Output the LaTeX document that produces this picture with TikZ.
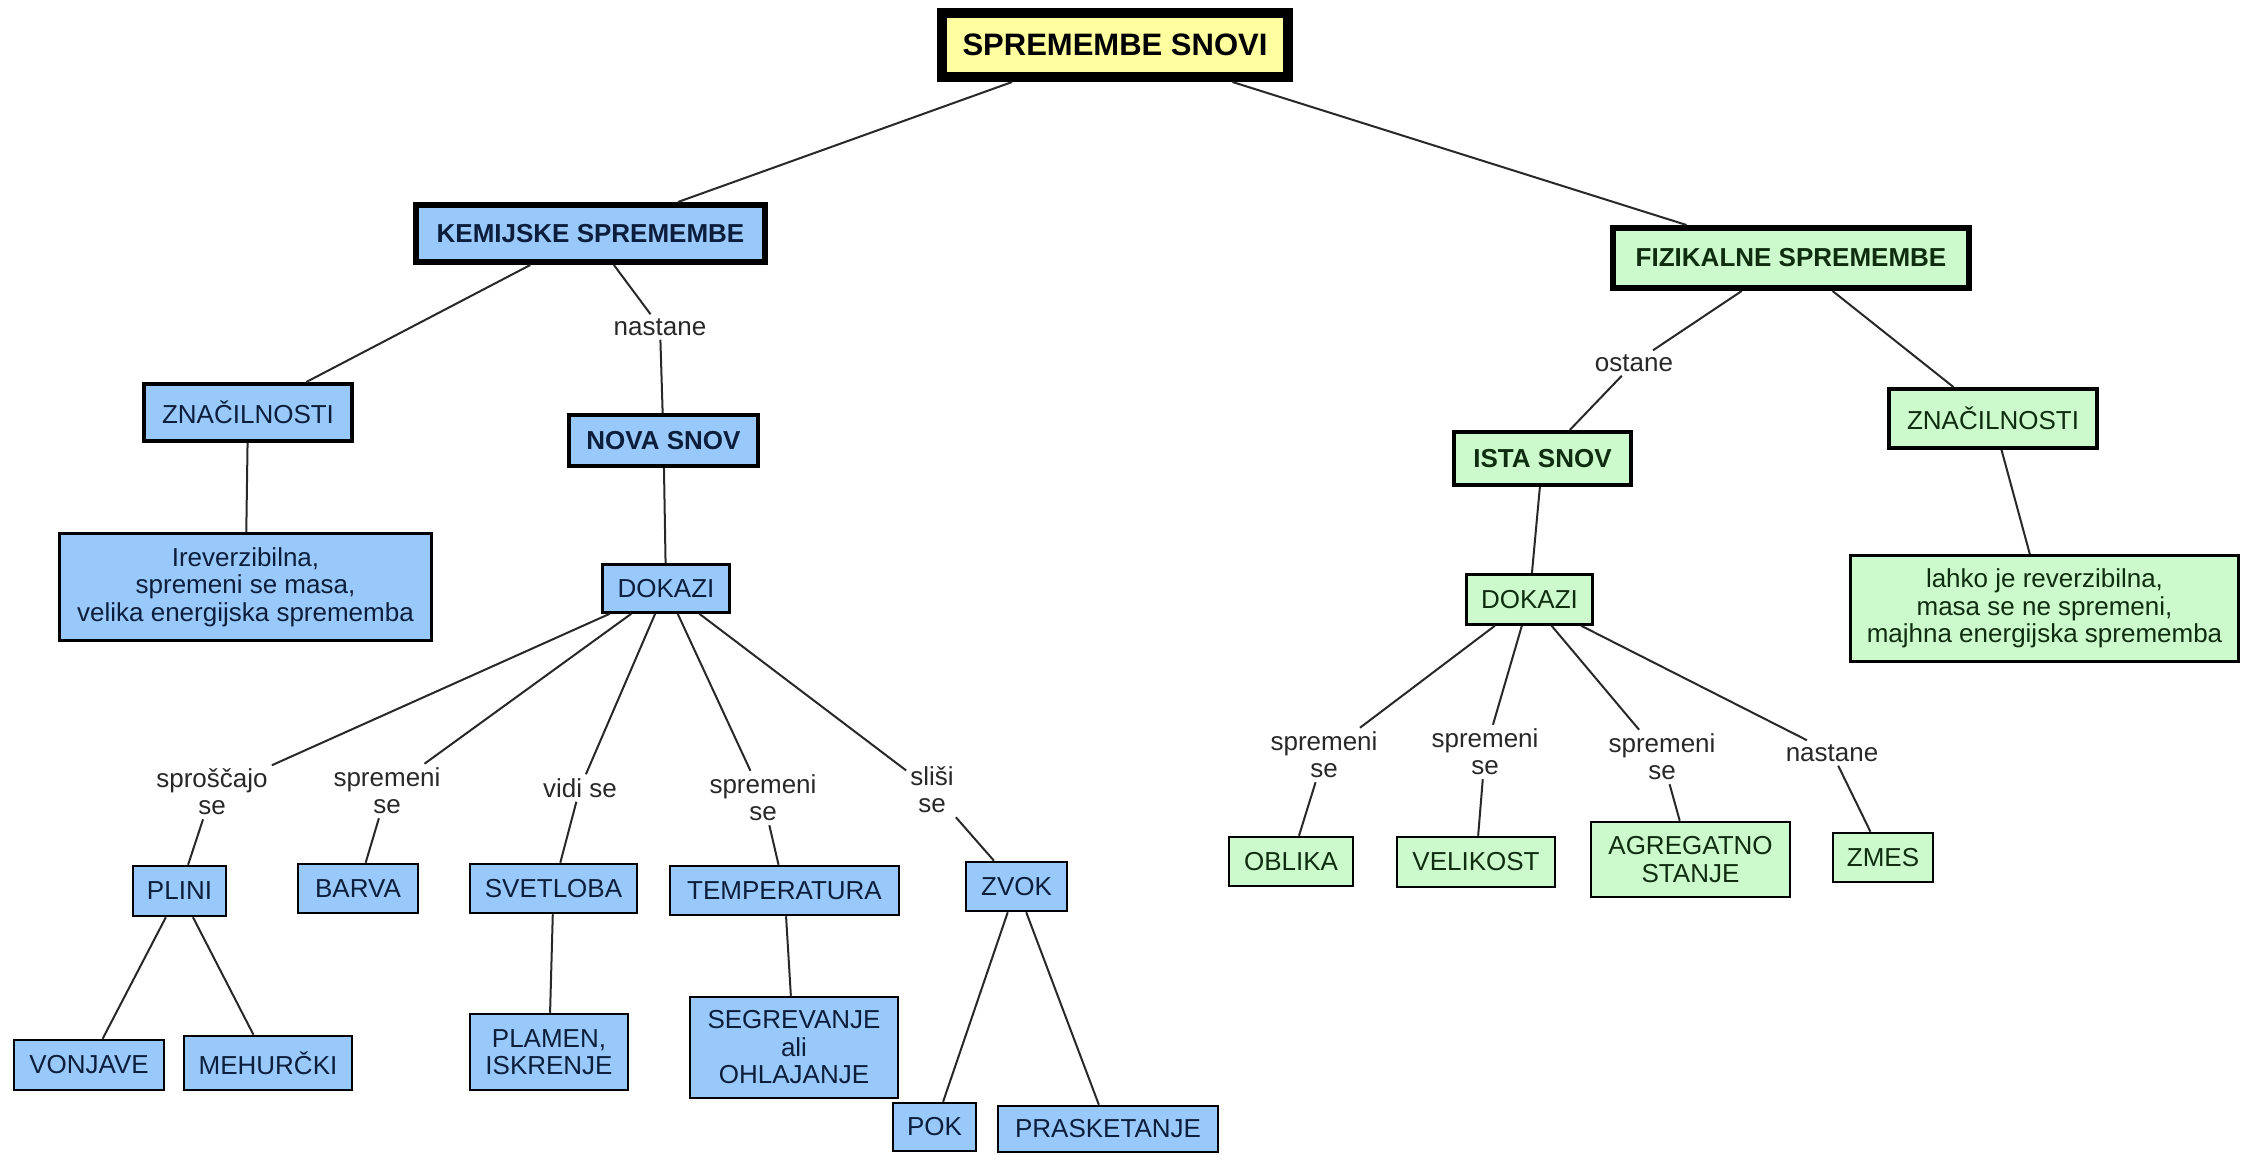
\documentclass[tikz,border=0pt]{standalone}
\usepackage{fontspec}
\setmainfont{Liberation Sans}
\definecolor{cblue}{RGB}{153,201,250}
\definecolor{cgreen}{RGB}{204,250,204}
\definecolor{cyellow}{RGB}{255,255,160}
\definecolor{tblue}{RGB}{12,30,60}
\definecolor{tgreen}{RGB}{15,45,15}
\definecolor{lgray}{RGB}{40,40,40}
\tikzset{
  box/.style={rectangle, draw=black, inner sep=0pt, align=center, font=\fontsize{26}{27.5}\selectfont},
  bluebox/.style={box, fill=cblue, text=tblue, line width=2.5pt},
  greenbox/.style={box, fill=cgreen, text=tgreen, line width=2.5pt},
  midframe/.style={line width=4pt},
  boldtext/.style={font=\fontsize{26}{28}\selectfont\bfseries},
  heavyframe/.style={line width=6pt, font=\fontsize{26}{28}\selectfont\bfseries},
  linkword/.style={inner sep=4pt, align=center, text=lgray, font=\fontsize{26}{27}\selectfont},
  conn/.style={draw=lgray, line width=2pt},
  sz/.style 2 args={minimum width=#1, minimum height=#2}
}
\begin{document}
\begin{tikzpicture}[x=1pt,y=-1pt]
\useasboundingbox (0,0) rectangle (2251,1155);
% root
\node[box, fill=cyellow, text=black, line width=10pt, font=\fontsize{31}{34}\selectfont\bfseries, sz={346pt}{64pt}] (top) at (1115,45) {SPREMEMBE SNOVI};
% left branch
\node[bluebox, heavyframe, sz={349pt}{57pt}] (kem) at (590.5,233.5) {KEMIJSKE SPREMEMBE};
\node[bluebox, midframe, sz={208pt}{57pt}] (znL) at (248,412.5) {ZNAČILNOSTI};
\node[bluebox, sz={372pt}{107pt}] (irev) at (245.5,587) {Ireverzibilna,\\spremeni se masa,\\velika energijska sprememba};
\node[linkword] (lnast) at (660,327) {nastane};
\node[bluebox, midframe, boldtext, sz={189pt}{51pt}] (nova) at (663.5,440.5) {NOVA SNOV};
\node[bluebox, sz={127pt}{48pt}] (dokL) at (666,588.5) {DOKAZI};
\node[linkword] (l1) at (212,792) {sproščajo\\se};
\node[linkword] (l2) at (387,791) {spremeni\\se};
\node[linkword] (l3) at (580,788) {vidi se};
\node[linkword] (l4) at (763,798) {spremeni\\se};
\node[linkword] (l5) at (932,790) {sliši\\se};
\node[bluebox, sz={93pt}{50pt}] (plini) at (179.5,891) {PLINI};
\node[bluebox, sz={120pt}{49pt}] (barva) at (358,888.5) {BARVA};
\node[bluebox, sz={167pt}{49pt}] (svet) at (553.5,888.5) {SVETLOBA};
\node[bluebox, sz={229pt}{49pt}] (temp) at (784.5,890.5) {TEMPERATURA};
\node[bluebox, sz={101pt}{49pt}] (zvok) at (1016.5,886.5) {ZVOK};
\node[bluebox, sz={150pt}{50pt}] (vonj) at (89,1065) {VONJAVE};
\node[bluebox, sz={168pt}{54pt}] (mehur) at (268,1063) {MEHURČKI};
\node[bluebox, sz={158pt}{76pt}] (plamen) at (549,1052) {PLAMEN,\\ISKRENJE};
\node[bluebox, sz={208pt}{101pt}] (segr) at (794,1047.5) {SEGREVANJE\\ali\\OHLAJANJE};
\node[bluebox, sz={83pt}{48pt}] (pok) at (934.5,1127) {POK};
\node[bluebox, sz={220pt}{46pt}] (prask) at (1108,1129) {PRASKETANJE};
% right branch
\node[greenbox, heavyframe, sz={356pt}{60pt}] (fiz) at (1791,258) {FIZIKALNE SPREMEMBE};
\node[linkword] (lost) at (1634,363) {ostane};
\node[greenbox, midframe, boldtext, sz={177pt}{53pt}] (ista) at (1542.5,458.5) {ISTA SNOV};
\node[greenbox, midframe, sz={208pt}{59pt}] (znR) at (1993,418.5) {ZNAČILNOSTI};
\node[greenbox, sz={388pt}{106pt}] (lahko) at (2044.5,608.5) {lahko je reverzibilna,\\masa se ne spremeni,\\majhna energijska sprememba};
\node[greenbox, sz={126pt}{50pt}] (dokR) at (1529.5,599.5) {DOKAZI};
\node[linkword] (r1) at (1324,755) {spremeni\\se};
\node[linkword] (r2) at (1485,752) {spremeni\\se};
\node[linkword] (r3) at (1662,757) {spremeni\\se};
\node[linkword] (r4) at (1832,753) {nastane};
\node[greenbox, sz={124pt}{49pt}] (oblika) at (1291,861.5) {OBLIKA};
\node[greenbox, sz={158pt}{50pt}] (velik) at (1476,862) {VELIKOST};
\node[greenbox, sz={199pt}{75pt}] (agreg) at (1690.5,859.5) {AGREGATNO\\STANJE};
\node[greenbox, sz={100pt}{49pt}] (zmes) at (1883,857.5) {ZMES};
% connectors
\begin{scope}[every path/.style={conn}]
\draw (top) -- (kem);
\draw (top) -- (fiz);
\draw (kem) -- (znL);
\draw (znL) -- (irev);
\draw (kem) -- (lnast) -- (nova);
\draw (nova) -- (dokL);
\draw (dokL) -- (l1) -- (plini);
\draw (dokL) -- (l2) -- (barva);
\draw (dokL) -- (l3) -- (svet);
\draw (dokL) -- (l4) -- (temp);
\draw (dokL) -- (l5) -- (zvok);
\draw (plini) -- (vonj);
\draw (plini) -- (mehur);
\draw (svet) -- (plamen);
\draw (temp) -- (segr);
\draw (zvok) -- (pok);
\draw (zvok) -- (prask);
\draw (fiz) -- (lost) -- (ista);
\draw (fiz) -- (znR);
\draw (znR) -- (lahko);
\draw (ista) -- (dokR);
\draw (dokR) -- (r1) -- (oblika);
\draw (dokR) -- (r2) -- (velik);
\draw (dokR) -- (r3) -- (agreg);
\draw (dokR) -- (r4) -- (zmes);
\end{scope}
\end{tikzpicture}
\end{document}
